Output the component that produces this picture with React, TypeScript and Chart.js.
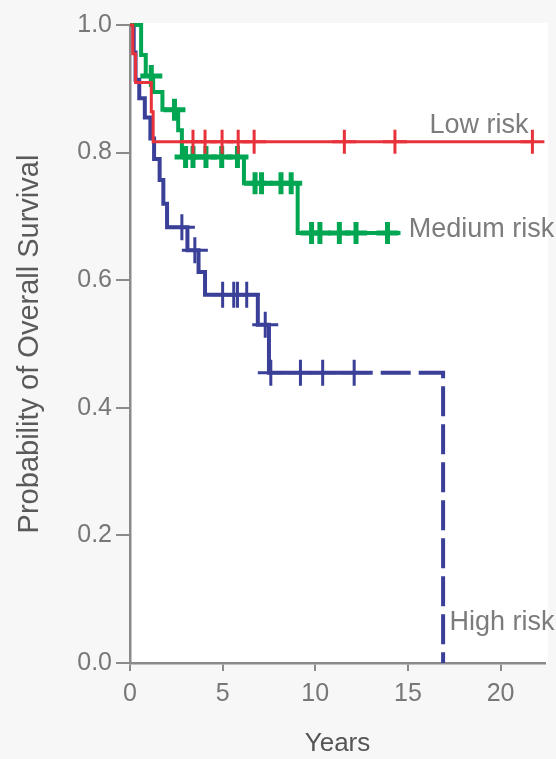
import React, { useEffect, useRef } from "react";
import { Chart, registerables } from "chart.js";

Chart.register(...registerables);

// ---- Data ----
const xTickValues = [0, 5, 10, 15, 20];
const yTickValues = [0, 0.2, 0.4, 0.6, 0.8, 1.0];

// Low risk (red)
const lowTimes = [0, 0.15, 0.3, 1.15, 1.25, 21.72];
const lowSurv = [1, 0.955, 0.91, 0.864, 0.817, 0.817];
const lowCensor = [3.4, 4.05, 4.97, 5.84, 6.7, 11.57, 14.3, 21.72];

// Medium risk (green)
const medTimes = [0, 0.6, 0.85, 1.25, 1.75, 2.6, 2.8, 6.15, 9.05, 14.6];
const medSurv = [1, 0.953, 0.92, 0.895, 0.867, 0.835, 0.793, 0.752, 0.674, 0.674];
const medCensor = [1.15, 2.4, 3.0, 3.4, 4.1, 4.95, 5.8, 6.75, 7.1, 8.15, 8.7, 9.8, 10.25, 11.3, 12.2, 13.9];

// High risk (blue)
const highTimes = [0, 0.2, 0.3, 0.5, 0.8, 1.1, 1.3, 1.6, 1.8, 2.0, 3.1, 3.7, 4.05, 6.9, 7.5, 13.1];
const highSurv = [1, 0.957, 0.914, 0.885, 0.855, 0.822, 0.79, 0.757, 0.72, 0.683, 0.647, 0.613, 0.577, 0.53, 0.455, 0.455];
const highCensor = [2.8, 3.5, 5.0, 5.6, 5.8, 6.3, 7.3, 7.6, 9.2, 10.4, 12.1];
const highTailTimes = [13.1, 16.9];
const highTailSurv = [0.455, 0];

const riskLabels = ["Low risk", "Medium risk", "High risk"];
const riskLabelX = [16.17, 15.04, 17.25];
const riskLabelY = [0.843, 0.68, 0.064];

const RED = "#e8323b";
const GREEN = "#00a651";
const BLUE = "#3a3f98";
const AXIS = "#8a8a8a";

function stepPoints(times: number[], surv: number[]) {
  return times.map((t, i) => ({ x: t, y: surv[i] }));
}

function censorPoints(censor: number[], times: number[], surv: number[]) {
  return censor.map((c) => {
    let v = surv[0];
    for (let i = 0; i < times.length; i++) if (times[i] <= c) v = surv[i];
    return { x: c, y: v };
  });
}

const bgPlugin = {
  id: "bg",
  beforeDraw(chart: any) {
    const { ctx, chartArea } = chart;
    ctx.save();
    ctx.fillStyle = "#f7f7f7";
    ctx.fillRect(0, 0, chart.width, chart.height);
    ctx.fillStyle = "#ffffff";
    ctx.fillRect(chartArea.left, chartArea.top - 2, chartArea.right - chartArea.left + 3, chartArea.bottom - chartArea.top + 2);
    ctx.restore();
  },
};

const labelPlugin = {
  id: "riskLabels",
  afterDatasetsDraw(chart: any) {
    const { ctx, scales } = chart;
    ctx.save();
    ctx.font = '27px "Liberation Sans"';
    ctx.fillStyle = "#7c7c7c";
    ctx.textAlign = "left";
    ctx.textBaseline = "middle";
    riskLabels.forEach((t, i) => {
      ctx.fillText(t, scales.x.getPixelForValue(riskLabelX[i]), scales.y.getPixelForValue(riskLabelY[i]));
    });
    ctx.restore();
  },
};

export default function App() {
  const ref = useRef<HTMLCanvasElement | null>(null);

  useEffect(() => {
    document.body.style.margin = "0";
    document.body.style.background = "#f7f7f7";
    const canvas = ref.current;
    if (!canvas) return;

    const lineBase = { pointRadius: 0, fill: false, stepped: true, clip: false as any };
    const censorBase = { showLine: false, pointStyle: "cross", clip: false as any };

    const chart = new Chart(canvas, {
      type: "line",
      data: {
        datasets: [
          { ...lineBase, label: "Low", data: stepPoints(lowTimes, lowSurv), borderColor: RED, borderWidth: 3 },
          { ...censorBase, label: "Low censored", data: censorPoints(lowCensor, lowTimes, lowSurv), borderColor: RED, pointBorderColor: RED, pointRadius: 12, pointBorderWidth: 3 },
          { ...lineBase, label: "Medium", data: stepPoints(medTimes, medSurv), borderColor: GREEN, borderWidth: 4 },
          { ...censorBase, label: "Medium censored", data: censorPoints(medCensor, medTimes, medSurv), borderColor: GREEN, pointBorderColor: GREEN, pointRadius: 11, pointBorderWidth: 5 },
          { ...lineBase, label: "High", data: stepPoints(highTimes, highSurv), borderColor: BLUE, borderWidth: 4 },
          { ...lineBase, label: "High tail", data: stepPoints(highTailTimes, highTailSurv), borderColor: BLUE, borderWidth: 4, borderDash: [30, 8], borderDashOffset: 30 },
          { ...censorBase, label: "High censored", data: censorPoints(highCensor, highTimes, highSurv), borderColor: BLUE, pointBorderColor: BLUE, pointRadius: 13, pointBorderWidth: 3 },
        ] as any,
      },
      options: {
        animation: false,
        responsive: false,
        maintainAspectRatio: false,
        events: [],
        layout: { autoPadding: false, padding: { top: 25, right: 11, left: 0, bottom: 0 } },
        plugins: { legend: { display: false }, tooltip: { enabled: false } },
        scales: {
          x: {
            type: "linear",
            min: 0,
            max: 22.4,
            afterBuildTicks: (s: any) => {
              s.ticks = xTickValues.map((v) => ({ value: v }));
            },
            afterFit: (s: any) => {
              s.height = 96;
            },
            grid: { drawOnChartArea: false, drawTicks: true, tickLength: 8, color: AXIS, lineWidth: 2 },
            border: { color: AXIS, width: 2.5 },
            ticks: {
              color: "#777",
              font: { family: "Liberation Sans", size: 25 },
              padding: 8,
              maxRotation: 0,
              autoSkip: false,
              callback: (v: any) => String(v),
            },
            title: { display: true, text: "Years", color: "#555", font: { family: "Liberation Sans", size: 26 }, padding: 0 },
          },
          y: {
            type: "linear",
            min: 0,
            max: 1,
            afterBuildTicks: (s: any) => {
              s.ticks = yTickValues.map((v) => ({ value: v }));
            },
            afterFit: (s: any) => {
              s.width = 130;
            },
            grid: { drawOnChartArea: false, drawTicks: true, tickLength: 14, color: AXIS, lineWidth: 2 },
            border: { color: AXIS, width: 2.5 },
            ticks: {
              color: "#777",
              font: { family: "Liberation Sans", size: 25 },
              padding: 4,
              autoSkip: false,
              callback: (v: any) => Number(v).toFixed(1),
            },
            title: {
              display: true,
              text: "Probability of Overall Survival",
              color: "#5a5a5a",
              font: { family: "Liberation Sans", size: 29 },
              padding: { top: 13, bottom: 0 },
            },
          },
        },
      } as any,
      plugins: [bgPlugin, labelPlugin],
    });

    return () => chart.destroy();
  }, []);

  return (
    <div style={{ width: 556, height: 759 }}>
      <canvas ref={ref} width={556} height={759} style={{ display: "block" }} />
    </div>
  );
}
